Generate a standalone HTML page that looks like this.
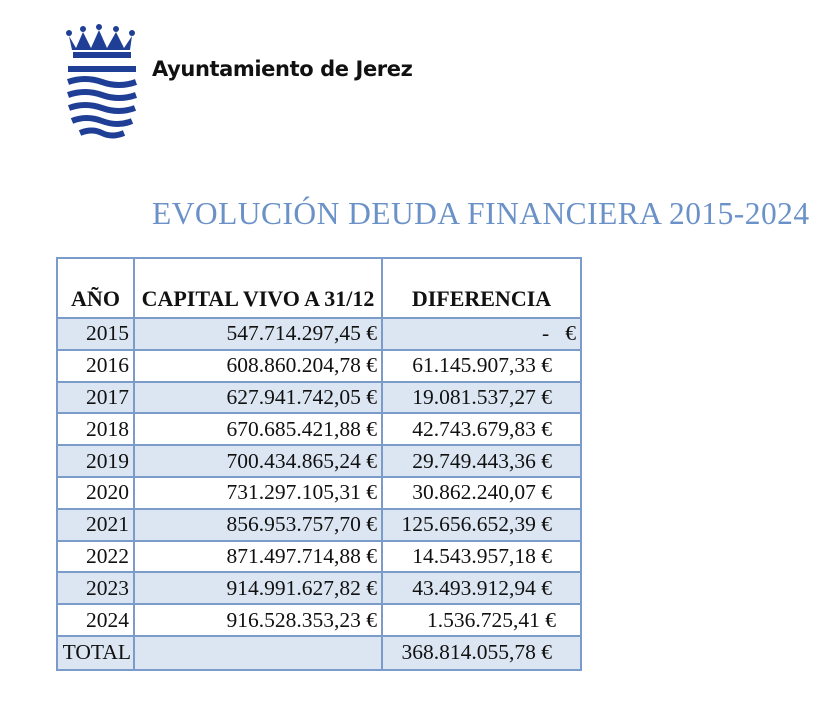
<!DOCTYPE html>
<html><head><meta charset="utf-8"><style>
body{margin:0;width:832px;height:702px;background:#fff;position:relative;overflow:hidden}
.t{position:absolute;white-space:nowrap}
table{position:absolute;left:56px;top:257px;border-collapse:collapse;table-layout:fixed;font-family:"Liberation Serif",serif;font-size:21.5px;color:#111}
td{border:2px solid #7b9ccb;height:30px;padding:0 4px 0 0;text-align:right;box-sizing:border-box}
tr{height:31.8px}
tr.s td{background:#dce6f2}
th{border:2px solid #7b9ccb;height:60px;vertical-align:bottom;padding:0 0 5px;font-size:22px;box-sizing:border-box}
.d{padding-right:28px}
</style></head><body>
<svg class="t" style="left:64px;top:24px" width="76" height="118" viewBox="0 0 76 118">
<g fill="#1f3f96">
<circle cx="5" cy="9" r="3"/><circle cx="19" cy="5" r="3"/><circle cx="35" cy="3" r="3"/><circle cx="52" cy="5" r="3"/><circle cx="68" cy="9" r="3"/>
<path d="M5 12 L12 24 L19 8 L27 24 L35 6 L43 24 L52 8 L60 24 L68 12 L66 26 L8 26Z"/>
<rect x="9" y="28" width="58" height="6"/>
</g>
<g fill="none" stroke="#1f3f96" stroke-width="6">
<path d="M4 45 H72"/>
<path d="M4 58 Q21 52 38 58 Q55 64 72 58"/>
<path d="M4 71 Q21 65 38 71 Q55 77 72 71"/>
<path d="M5 84 Q21 78 38 84 Q55 90 71 84"/>
<path d="M8 97 Q22 91 38 97 Q54 103 68 97"/>
<path d="M16 109 Q28 104 38 109 Q48 114 60 109"/>
</g></svg>
<div class="t" style="left:152px;top:57px;font-family:'DejaVu Sans','Liberation Sans',sans-serif;font-weight:bold;font-size:21px;color:#111;letter-spacing:-0.4px">Ayuntamiento de Jerez</div>
<div class="t" style="left:152px;top:196px;font-family:'Liberation Serif',serif;font-size:31.5px;color:#6b92c8;letter-spacing:0.45px">EVOLUCIÓN DEUDA FINANCIERA 2015-2024</div>
<table>
<colgroup><col style="width:77px"><col style="width:248px"><col style="width:199px"></colgroup>
<tr style="height:60px"><th style="text-align:center">AÑO</th><th>CAPITAL VIVO A 31/12</th><th>DIFERENCIA</th></tr>
<tr class="s"><td>2015</td><td>547.714.297,45 €</td><td>-&nbsp;&nbsp; €</td></tr>
<tr><td>2016</td><td>608.860.204,78 €</td><td class="d">61.145.907,33 €</td></tr>
<tr class="s"><td>2017</td><td>627.941.742,05 €</td><td class="d">19.081.537,27 €</td></tr>
<tr><td>2018</td><td>670.685.421,88 €</td><td class="d">42.743.679,83 €</td></tr>
<tr class="s"><td>2019</td><td>700.434.865,24 €</td><td class="d">29.749.443,36 €</td></tr>
<tr><td>2020</td><td>731.297.105,31 €</td><td class="d">30.862.240,07 €</td></tr>
<tr class="s"><td>2021</td><td>856.953.757,70 €</td><td class="d">125.656.652,39 €</td></tr>
<tr><td>2022</td><td>871.497.714,88 €</td><td class="d">14.543.957,18 €</td></tr>
<tr class="s"><td>2023</td><td>914.991.627,82 €</td><td class="d">43.493.912,94 €</td></tr>
<tr><td>2024</td><td>916.528.353,23 €</td><td style="padding-right:24px">1.536.725,41 €</td></tr>
<tr class="s" style="height:34px"><td style="padding:0 2px 0 0">TOTAL</td><td></td><td class="d">368.814.055,78 €</td></tr>
</table>
</body></html>
